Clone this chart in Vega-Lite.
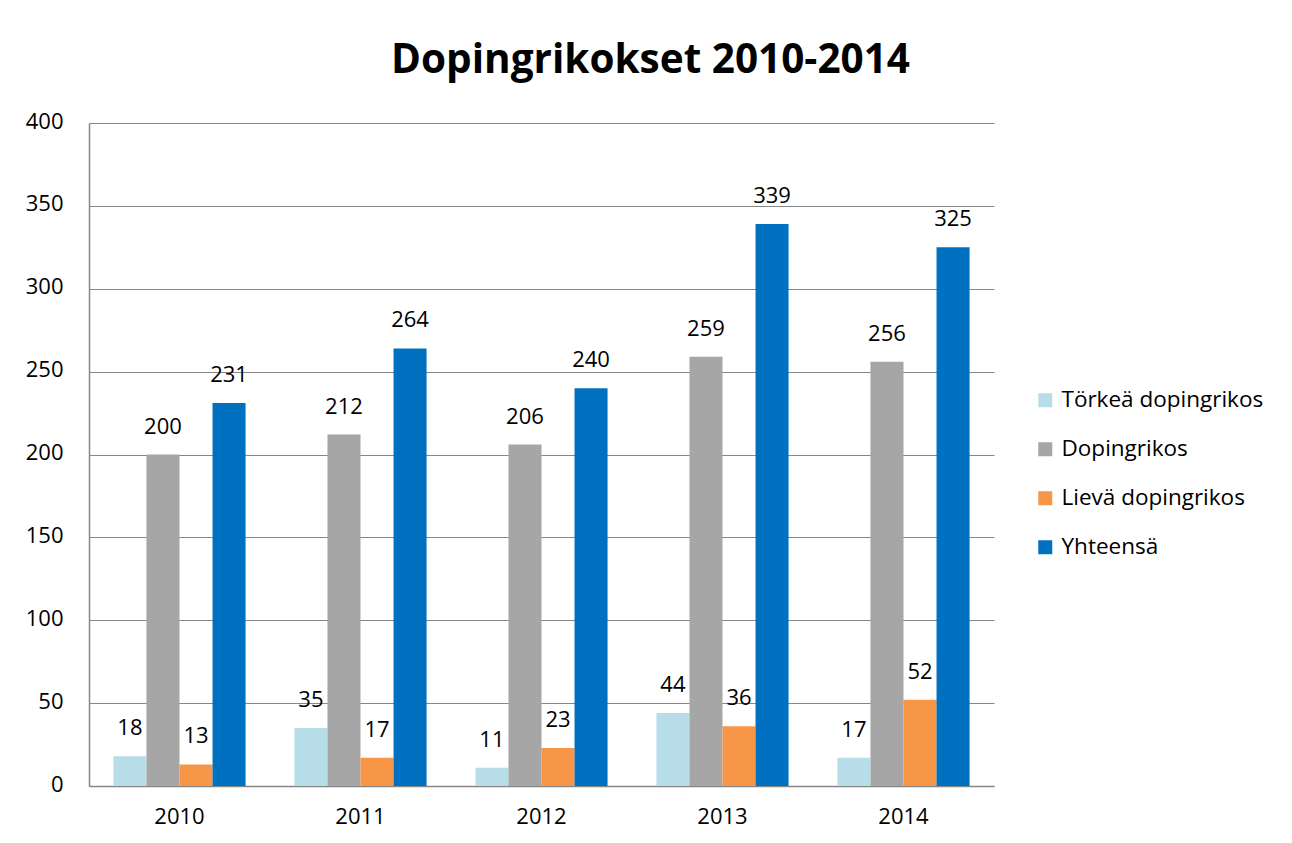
{
  "$schema": "https://vega.github.io/schema/vega-lite/v6.json",
  "width": 905,
  "height": 663,
  "autosize": {"type": "none"},
  "padding": {"left": 89, "top": 123, "right": 298, "bottom": 57},
  "background": "white",
  "title": {
    "text": "Dopingrikokset 2010-2014",
    "font": "Open Sans",
    "fontSize": 40.5,
    "fontWeight": "bold",
    "color": "#000000",
    "anchor": "middle",
    "frame": "group",
    "baseline": "alphabetic",
    "offset": -3,
    "dx": 109
  },
  "config": {
    "view": {"stroke": null},
    "font": "Open Sans"
  },
  "data": {
    "values": [
      {"vuosi": "2010", "laji": "Törkeä dopingrikos", "arvo": 18},
      {"vuosi": "2010", "laji": "Dopingrikos", "arvo": 200},
      {"vuosi": "2010", "laji": "Lievä dopingrikos", "arvo": 13},
      {"vuosi": "2010", "laji": "Yhteensä", "arvo": 231},
      {"vuosi": "2011", "laji": "Törkeä dopingrikos", "arvo": 35},
      {"vuosi": "2011", "laji": "Dopingrikos", "arvo": 212},
      {"vuosi": "2011", "laji": "Lievä dopingrikos", "arvo": 17},
      {"vuosi": "2011", "laji": "Yhteensä", "arvo": 264},
      {"vuosi": "2012", "laji": "Törkeä dopingrikos", "arvo": 11},
      {"vuosi": "2012", "laji": "Dopingrikos", "arvo": 206},
      {"vuosi": "2012", "laji": "Lievä dopingrikos", "arvo": 23},
      {"vuosi": "2012", "laji": "Yhteensä", "arvo": 240},
      {"vuosi": "2013", "laji": "Törkeä dopingrikos", "arvo": 44},
      {"vuosi": "2013", "laji": "Dopingrikos", "arvo": 259},
      {"vuosi": "2013", "laji": "Lievä dopingrikos", "arvo": 36},
      {"vuosi": "2013", "laji": "Yhteensä", "arvo": 339},
      {"vuosi": "2014", "laji": "Törkeä dopingrikos", "arvo": 17},
      {"vuosi": "2014", "laji": "Dopingrikos", "arvo": 256},
      {"vuosi": "2014", "laji": "Lievä dopingrikos", "arvo": 52},
      {"vuosi": "2014", "laji": "Yhteensä", "arvo": 325}
    ]
  },
  "encoding": {
    "x": {
      "field": "vuosi",
      "type": "nominal",
      "scale": {"paddingInner": 0.27, "paddingOuter": 0.135},
      "axis": {
        "title": null,
        "labelAngle": 0,
        "labelFontSize": 22,
        "labelColor": "#000000",
        "labelFont": "Open Sans",
        "labelPadding": 20,
        "ticks": false,
        "domainColor": "#868686",
        "domainWidth": 1.5
      }
    },
    "xOffset": {
      "field": "laji",
      "type": "nominal",
      "sort": ["Törkeä dopingrikos", "Dopingrikos", "Lievä dopingrikos", "Yhteensä"],
      "scale": {"paddingInner": 0, "paddingOuter": 0}
    },
    "y": {
      "field": "arvo",
      "type": "quantitative",
      "scale": {"domain": [0, 400], "nice": false},
      "axis": {
        "title": null,
        "values": [0, 50, 100, 150, 200, 250, 300, 350, 400],
        "labelFontSize": 22,
        "labelColor": "#000000",
        "labelFont": "Open Sans",
        "labelPadding": 26,
        "labelOffset": -2,
        "ticks": false,
        "grid": true,
        "gridColor": "#868686",
        "gridWidth": 1.2,
        "domainColor": "#868686",
        "domainWidth": 1.5
      }
    }
  },
  "layer": [
    {
      "mark": {"type": "bar"},
      "encoding": {
        "color": {
          "field": "laji",
          "type": "nominal",
          "sort": ["Törkeä dopingrikos", "Dopingrikos", "Lievä dopingrikos", "Yhteensä"],
          "scale": {
            "domain": ["Törkeä dopingrikos", "Dopingrikos", "Lievä dopingrikos", "Yhteensä"],
            "range": ["#B7DEE8", "#A6A6A6", "#F79646", "#0070C0"]
          },
          "legend": {
            "title": null,
            "orient": "none",
            "legendX": 945,
            "legendY": 266,
            "padding": 0,
            "symbolType": "square",
            "symbolSize": 196,
            "symbolStrokeWidth": 0,
            "labelFontSize": 22.5,
            "labelFont": "Open Sans",
            "labelColor": "#000000",
            "labelOffset": 5,
            "rowPadding": 26,
            "labelLimit": 400
          }
        }
      }
    },
    {
      "mark": {"type": "text", "fontSize": 22, "font": "Open Sans", "color": "#000000", "baseline": "alphabetic", "dy": -21},
      "encoding": {
        "text": {"field": "arvo", "type": "quantitative"}
      }
    }
  ]
}
